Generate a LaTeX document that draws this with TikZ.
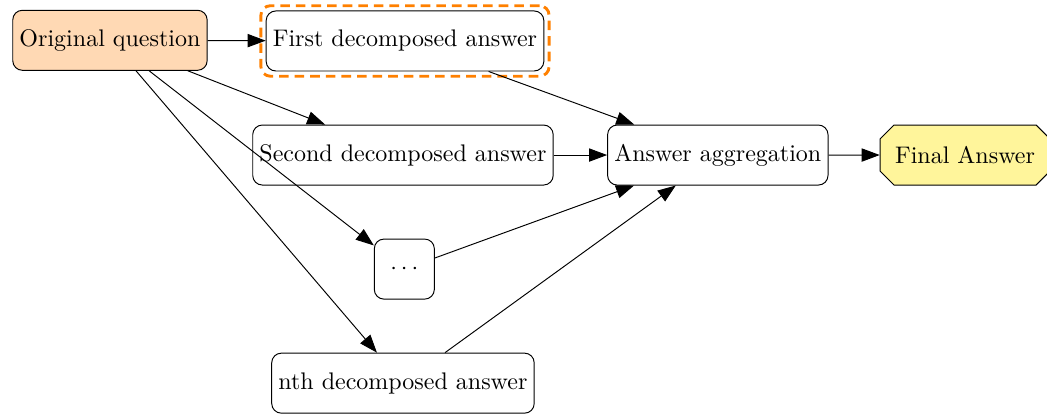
\documentclass[tikz,border=0pt]{standalone}
\usepackage{xcolor}
\usepackage{tikz}
\usetikzlibrary{positioning, arrows.meta, shapes.misc, fit}

\definecolor{peach}{RGB}{255,217,180}
\definecolor{paleyellow}{RGB}{255,245,155}

\begin{document}
\begin{tikzpicture}[>={Triangle[length=7.5pt, width=5.5pt]}, node distance=0.8cm,
    box/.style={draw, rectangle, rounded corners, minimum height=2.5em, inner xsep=2.8pt}]
        \useasboundingbox (0, 0) rectangle (15.33, -6.09);

        \node[box, fill=peach]   (orig)  at (1.61, -0.59)  {Original question};
        \node[box]               (first) at (5.93, -0.60)  {First decomposed answer};
        \node[box]               (second) at (5.90, -2.27) {Second decomposed answer};
        \node[box, minimum width=2.5em]
                                 (dots)  at (5.92, -3.94)  {$\cdots$};
        \node[box]               (nth)   at (5.90, -5.61)  {nth decomposed answer};
        \node[box]               (agg)   at (10.51, -2.27) {Answer aggregation};
        \node[draw, chamfered rectangle, fill=paleyellow, minimum height=2.5em]
                                 (final) at (14.13, -2.27) {Final Answer};

        % highlight of the first answer
        \node[draw=orange, line width=1.2pt, dash pattern=on 4pt off 2.5pt,
              rounded corners, inner sep=2pt, fit=(first)] (hl) {};

        \draw[->] (orig)   -- (first);
        \draw[->] (orig)   -- (second);
        \draw[->] (orig)   -- (dots);
        \draw[->] (orig)   -- (nth);
        \draw[->] (first)  -- (agg);
        \draw[->] (second) -- (agg);
        \draw[->] (dots)   -- (agg);
        \draw[->] (nth)    -- (agg);
        \draw[->] (agg)    -- (final);
    \end{tikzpicture}
\end{document}
